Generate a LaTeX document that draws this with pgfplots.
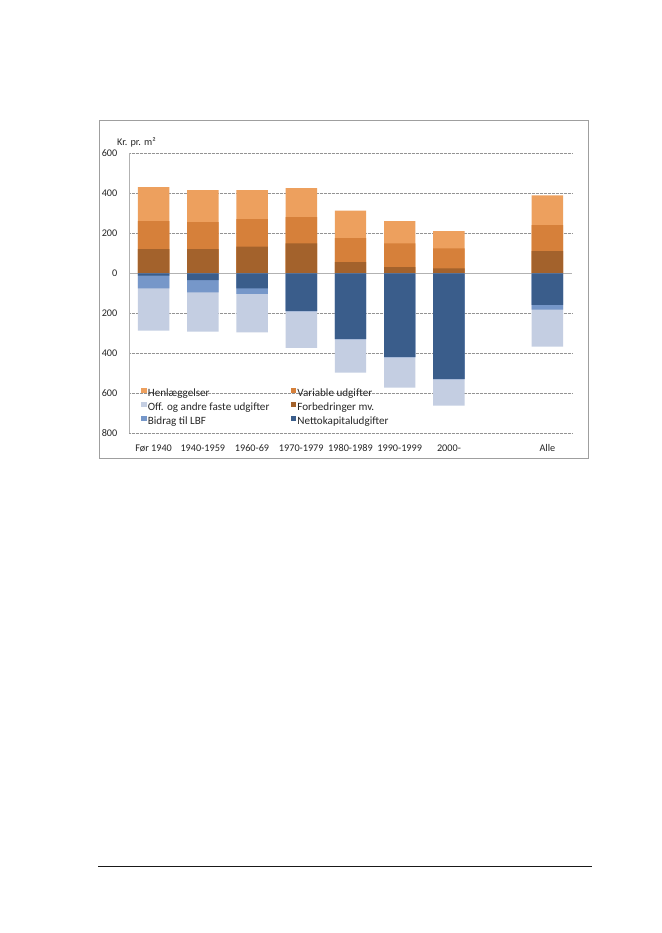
\documentclass[border=0pt]{standalone}
\usepackage{fontspec}
\setmainfont{Carlito}
\usepackage{pgfplots}
\pgfplotsset{compat=1.18}

\definecolor{henl}{HTML}{EDA05E}
\definecolor{vari}{HTML}{D6803A}
\definecolor{forb}{HTML}{A3622C}
\definecolor{netto}{HTML}{3A5D8B}
\definecolor{bidrag}{HTML}{7697C9}
\definecolor{off}{HTML}{C4CEE2}
\definecolor{txt}{HTML}{262626}

\begin{document}
\begin{tikzpicture}
% page (1 px = 0.9pt)
\path[fill=white] (0,0) rectangle (594.9pt,839.7pt);
% chart frame
\draw[gray!75,line width=0.7pt] (89.1pt,731.3pt) rectangle (529.5pt,427.5pt);
% page rule
\draw[black!90,line width=0.6pt] (88.5pt,60.3pt) -- (533.1pt,60.3pt);

\begin{axis}[
  at={(116.1pt,449.55pt)}, anchor=south west,
  scale only axis, width=398.7pt, height=252pt,
  xmin=-0.5, xmax=8.5, ymin=-800, ymax=600,
  ybar, bar width=28.3pt,
  every axis plot/.append style={bar shift=0pt, draw=none},
  axis line style={draw=none},
  major tick length=0pt,
  font=\fontsize{9.2}{10}\selectfont,
  tick label style={text=txt},
  xtick={0,1,2,3,4,5,6,7,8},
  xticklabels={Før 1940,1940-1959,1960-69,1970-1979,1980-1989,1990-1999,2000-,,Alle},
  xticklabel style={yshift=-6pt, text height=7pt, text depth=2pt},
  ytick={-800,-600,-400,-200,200,400,600},
  yticklabels={800,600,400,200,200,400,600},
  extra y ticks={0}, extra y tick labels={0},
  extra y tick style={grid style={solid,gray!60,line width=0.6pt}},
  yticklabel style={xshift=-7pt},
  ymajorgrids,
  grid style={gray!85,line width=0.6pt,dash pattern=on 0.6pt off 0.6pt},
  clip=false,
  legend columns=2,
  legend cell align=left,
  legend style={draw=none, fill=none, inner sep=0pt,
    at={(rel axis cs:0.027,0.166)}, anchor=north west,
    font=\fontsize{10}{11}\selectfont, text=txt,
    nodes={inner sep=1.2pt, text height=7pt, text depth=2pt},
    row sep=1.2pt,
    /tikz/every even column/.append style={column sep=18pt}},
  legend image code/.code={\fill[#1] (0pt,0.2pt) rectangle (4.8pt,5pt);},
]
\addplot[fill=henl] coordinates {(0,432)(1,417)(2,417)(3,427)(4,314)(5,262)(6,212)(8,391)};
\addlegendentry{Henlæggelser}
\addplot[fill=vari] coordinates {(0,262)(1,257)(2,272)(3,282)(4,177)(5,151)(6,126)(8,242)};
\addlegendentry{Variable udgifter}
\addplot[fill=off] coordinates {(0,-286)(1,-291)(2,-294)(3,-372)(4,-496)(5,-571)(6,-661)(8,-366)};
\addlegendentry{Off. og andre faste udgifter}
\addplot[fill=forb] coordinates {(0,122)(1,122)(2,134)(3,151)(4,57)(5,32)(6,26)(8,112)};
\addlegendentry{Forbedringer mv.}
\addplot[fill=bidrag] coordinates {(0,-74)(1,-94)(2,-102)(3,-190)(4,-330)(5,-420)(6,-529)(8,-181)};
\addlegendentry{Bidrag til LBF}
\addplot[fill=netto] coordinates {(0,-11)(1,-33)(2,-74)(3,-187)(4,-327)(5,-417)(6,-527)(8,-157)};
\addlegendentry{Nettokapitaludgifter}
\draw[gray!60,line width=0.6pt] (rel axis cs:0,0) -- (rel axis cs:0,1);
\end{axis}
\node[anchor=west,inner sep=0pt,text=txt,font=\fontsize{9.2}{10}\selectfont] at (105.3pt,711.9pt) {Kr. pr. m²};
\end{tikzpicture}
\end{document}
